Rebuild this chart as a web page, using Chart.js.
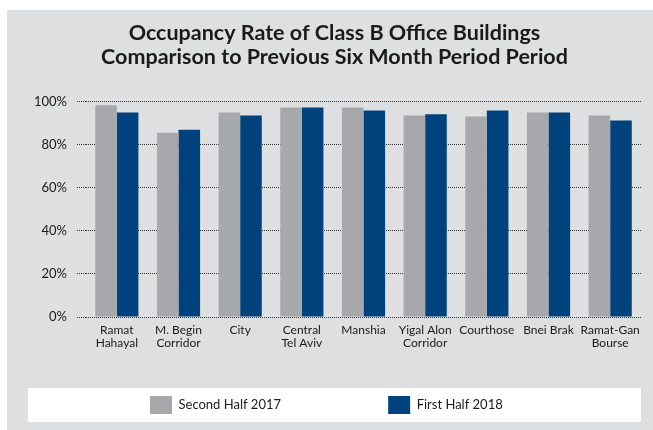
<!DOCTYPE html>
<html>
<head>
<meta charset="utf-8">
<script src="https://cdn.jsdelivr.net/npm/chart.js@4.4.1/dist/chart.umd.min.js"></script>
<style>
  html, body { margin: 0; padding: 0; background: #ffffff; }
  #panel { position: absolute; left: 7px; top: 10px; width: 646px; height: 420px; background: #dedfe1; }
  canvas { display: block; }
</style>
</head>
<body>
<div id="panel"><canvas id="occupancyChart" width="646" height="420"></canvas></div>
<script>
const categories = [
    ["Ramat", "Hahayal"], ["M. Begin", "Corridor"], "City", ["Central", "Tel Aviv"],
    "Manshia", ["Yigal Alon", "Corridor"], "Courthose", "Bnei Brak", ["Ramat-Gan", "Bourse"]
];
const secondHalf2017 = [98.3, 85.6, 95.0, 97.3, 97.3, 93.6, 93.1, 95.0, 93.6];
const firstHalf2018 = [95.0, 87.0, 93.6, 97.3, 95.9, 94.1, 95.9, 95.0, 91.2];
const seriesLabels = ["Second Half 2017", "First Half 2018"];
const yTicks = [0, 20, 40, 60, 80, 100];

const gray = "#a7a8ab";
const blue = "#00427c";
const font = "Lato, 'Noto Sans', sans-serif";

// white strip behind the legend
const legendBackground = {
    id: "legendBackground",
    beforeDraw(chart) {
        const lg = chart.legend;
        const ctx = chart.ctx;
        ctx.save();
        ctx.fillStyle = "#ffffff";
        ctx.fillRect(lg.left, lg.top, lg.width, lg.height);
        ctx.restore();
    }
};

document.addEventListener("DOMContentLoaded", function() {
    const ctx = document.getElementById("occupancyChart").getContext("2d");

    new Chart(ctx, {
        type: "bar",
        data: {
            labels: categories,
            datasets: [{
                label: seriesLabels[0],
                data: secondHalf2017,
                backgroundColor: gray,
                borderWidth: 0
            }, {
                label: seriesLabels[1],
                data: firstHalf2018,
                backgroundColor: blue,
                borderWidth: 0
            }]
        },
        options: {
            responsive: false,
            animation: false,
            layout: {
                padding: { left: 21, right: 12, top: 0, bottom: 8 }
            },
            datasets: {
                bar: { categoryPercentage: 0.7, barPercentage: 1.0 }
            },
            plugins: {
                title: {
                    display: true,
                    text: ["Occupancy Rate of Class B Office Buildings", "Comparison to Previous Six Month Period Period"],
                    color: "#1a1a1a",
                    font: { family: font, size: 21.5, weight: "bold", lineHeight: 1.12 },
                    padding: { top: 11, bottom: 32.5 }
                },
                legend: {
                    position: "bottom",
                    maxHeight: 34,
                    labels: {
                        boxWidth: 22,
                        boxHeight: 18,
                        padding: 8,
                        color: "#1a1a1a",
                        font: { family: font, size: 13 },
                        generateLabels(chart) {
                            // widen the items so they sit apart like the original
                            const items = Chart.defaults.plugins.legend.labels.generateLabels(chart);
                            items[0].text += "\u2003".repeat(10) + "\u2009";
                            items[1].text += "\u2003\u2002";
                            return items;
                        }
                    }
                },
                tooltip: { enabled: false }
            },
            scales: {
                x: {
                    grid: { display: false, drawTicks: false },
                    border: { display: false },
                    ticks: {
                        color: "#1a1a1a",
                        font: { family: font, size: 12, lineHeight: 1.05 },
                        padding: 7,
                        maxRotation: 0,
                        autoSkip: false
                    },
                    afterFit(scale) { scale.height = 71; }
                },
                y: {
                    min: 0,
                    max: 100,
                    afterBuildTicks(scale) {
                        scale.ticks = yTicks.map(v => ({ value: v }));
                    },
                    grid: {
                        color: "#333333",
                        lineWidth: 1,
                        tickLength: 9,
                        tickColor: "#333333",
                        tickBorderDash: [1, 1]
                    },
                    border: { display: false, dash: [1, 1] },
                    ticks: {
                        color: "#1a1a1a",
                        font: { family: font, size: 13 },
                        padding: 10,
                        callback: v => v + "%"
                    },
                    afterFit(scale) { scale.width = 58; }
                }
            }
        },
        plugins: [legendBackground]
    });
});
</script>
</body>
</html>
